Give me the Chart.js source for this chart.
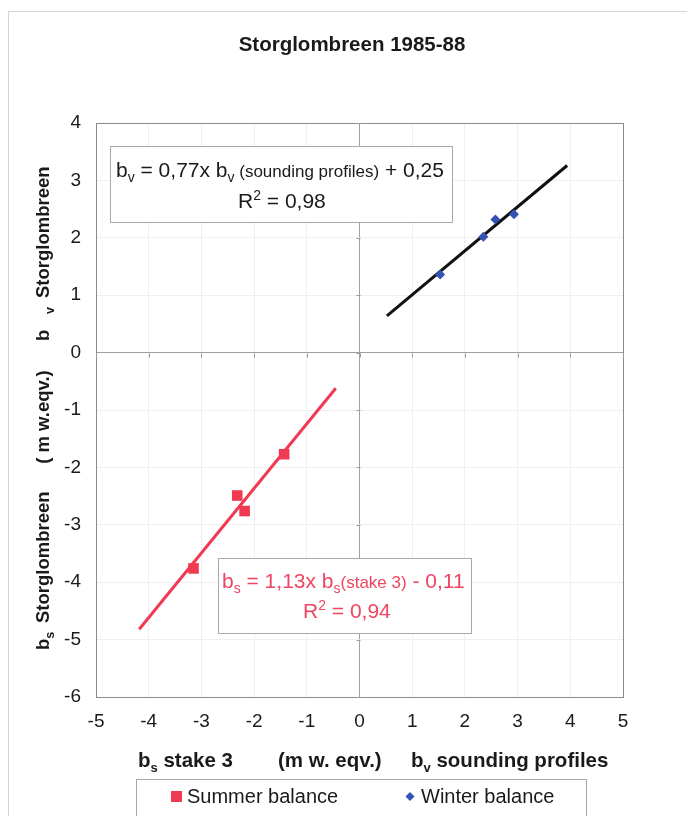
<!DOCTYPE html>
<html><head><meta charset="utf-8">
<script src="https://cdn.jsdelivr.net/npm/chart.js@4.4.1/dist/chart.umd.min.js"></script>
<style>html,body{margin:0;padding:0;background:#fff;}#wrap{width:687px;height:816px;position:relative;}</style>
</head><body><div id="wrap"><canvas id="c" width="687" height="816"></canvas></div>
<script>
// Data
const summerX = [-1.43, -2.32, -2.18, -3.15];
const summerY = [-1.77, -2.49, -2.76, -3.76];
const winterX = [1.53, 2.35, 2.58, 2.93];
const winterY = [1.36, 2.02, 2.32, 2.41];
const summerTrendX = [-4.18, -0.45];
const summerTrendY = [-4.82, -0.62];
const winterTrendX = [0.52, 3.94];
const winterTrendY = [0.64, 3.26];
const xTicks = [-5, -4, -3, -2, -1, 0, 1, 2, 3, 4, 5];
const yTicks = [-6, -5, -4, -3, -2, -1, 0, 1, 2, 3, 4];
const titleText = 'Storglombreen 1985-88';
const legendLabels = ['Summer balance', 'Winter balance'];

const RED = '#f03a52', BLUE = '#3552b4', FAM = '"Liberation Sans", Arial, sans-serif';
const pts = (xs, ys) => xs.map((x, i) => ({x, y: ys[i]}));

function drawRich(ctx, x, y, segs, color) {
  let cx = x;
  ctx.fillStyle = color;
  ctx.textBaseline = 'alphabetic';
  ctx.textAlign = 'left';
  for (const s of segs) {
    ctx.font = (s.b ? 'bold ' : '') + s.s + 'px ' + FAM;
    ctx.fillText(s.t, cx, y + (s.dy || 0));
    cx += ctx.measureText(s.t).width;
  }
  return cx - x;
}

const decor = {
  id: 'decor',
  beforeDraw(chart) {
    const ctx = chart.ctx;
    ctx.save();
    ctx.fillStyle = '#fff';
    ctx.fillRect(0, 0, chart.width, chart.height);
    ctx.strokeStyle = '#d4d4d4'; ctx.lineWidth = 1;
    ctx.strokeRect(8.5, 11.5, 900, 900);
    ctx.restore();
  },
  beforeDatasetsDraw(chart) {
    const ctx = chart.ctx, a = chart.chartArea;
    const xs = chart.scales.x, ys = chart.scales.y;
    ctx.save();
    ctx.strokeStyle = '#8c8c8c'; ctx.lineWidth = 1;
    ctx.strokeRect(Math.round(a.left) + 0.5, Math.round(a.top) + 0.5, Math.round(a.right - a.left), Math.round(a.bottom - a.top));
    const x0 = Math.round(xs.getPixelForValue(0)) + 0.5, y0 = Math.round(ys.getPixelForValue(0)) + 0.5;
    ctx.strokeStyle = '#9a9a9a';
    ctx.beginPath();
    for (const v of yTicks) { const py = Math.round(ys.getPixelForValue(v)) + 0.5; ctx.moveTo(x0 - 4, py); ctx.lineTo(x0, py); }
    for (const v of xTicks) { const px = Math.round(xs.getPixelForValue(v)) + 0.5; ctx.moveTo(px, y0); ctx.lineTo(px, y0 + 4); }
    ctx.stroke();
    ctx.restore();
  },
  afterDraw(chart) {
    const ctx = chart.ctx;
    ctx.save();
    // title
    ctx.font = 'bold 20.5px ' + FAM; ctx.fillStyle = '#1a1a1a'; ctx.textAlign = 'center'; ctx.textBaseline = 'middle';
    ctx.fillText(titleText, 352, 45);
    // annotation box 1
    ctx.fillStyle = '#fff'; ctx.strokeStyle = '#a8a8a8'; ctx.lineWidth = 1;
    ctx.fillRect(111, 147, 342, 76); ctx.strokeRect(110.5, 146.5, 342, 76);
    drawRich(ctx, 116, 177, [
      {t: 'b', s: 21}, {t: 'v', s: 14, dy: 5}, {t: ' = 0,77x b', s: 21}, {t: 'v', s: 14, dy: 5},
      {t: ' (sounding profiles)', s: 17}, {t: ' + 0,25', s: 21}], '#1a1a1a');
    drawRich(ctx, 238, 208, [{t: 'R', s: 21}, {t: '2', s: 14, dy: -8}, {t: ' = 0,98', s: 21}], '#1a1a1a');
    // annotation box 2
    ctx.fillStyle = '#fff'; ctx.strokeStyle = '#a8a8a8';
    ctx.fillRect(219, 559, 253, 75); ctx.strokeRect(218.5, 558.5, 253, 75);
    drawRich(ctx, 222, 588, [
      {t: 'b', s: 21}, {t: 's', s: 14, dy: 5}, {t: ' = 1,13x b', s: 21}, {t: 's', s: 14, dy: 5},
      {t: '(stake 3)', s: 17}, {t: ' - 0,11', s: 21}], '#ee4560');
    drawRich(ctx, 303, 618, [{t: 'R', s: 21}, {t: '2', s: 14, dy: -8}, {t: ' = 0,94', s: 21}], '#ee4560');
    // y axis title (rotated), pieces placed along the axis
    const ytx = 49;
    const piece = (yStart, segs) => {
      ctx.save(); ctx.translate(ytx, yStart); ctx.rotate(-Math.PI / 2);
      drawRich(ctx, 0, 0, segs, '#1a1a1a'); ctx.restore();
    };
    piece(650, [{t: 'b', s: 18.5, b: 1}, {t: 's', s: 12.5, b: 1, dy: 5}]);
    piece(623, [{t: 'Storglombreen', s: 18.5, b: 1}]);
    ctx.font = 'bold 18.5px ' + FAM;
    const pw = ctx.measureText('( m w.eqv.)').width;
    piece(417 + pw / 2, [{t: '( m w.eqv.)', s: 18.5, b: 1}]);
    piece(341, [{t: 'b', s: 18.5, b: 1}]);
    piece(314, [{t: 'v', s: 12.5, b: 1, dy: 5}]);
    piece(298, [{t: 'Storglombreen', s: 18.5, b: 1}]);
    // x axis title
    drawRich(ctx, 138, 767, [{t: 'b', s: 20.5, b: 1}, {t: 's', s: 13, b: 1, dy: 5}, {t: ' stake 3', s: 20.5, b: 1}], '#1a1a1a');
    drawRich(ctx, 278, 767, [{t: '(m w. eqv.)', s: 20.5, b: 1}], '#1a1a1a');
    drawRich(ctx, 411, 767, [{t: 'b', s: 20.5, b: 1}, {t: 'v', s: 13, b: 1, dy: 5}, {t: ' sounding profiles', s: 20.5, b: 1}], '#1a1a1a');
    // legend
    ctx.strokeStyle = '#a8a8a8';
    ctx.strokeRect(136.5, 779.5, 450, 60);
    ctx.fillStyle = RED; ctx.fillRect(171, 791, 11, 11);
    ctx.fillStyle = BLUE; ctx.beginPath();
    ctx.moveTo(410, 792); ctx.lineTo(414.5, 796.5); ctx.lineTo(410, 801); ctx.lineTo(405.5, 796.5); ctx.closePath(); ctx.fill();
    ctx.font = '20px ' + FAM; ctx.fillStyle = '#1a1a1a'; ctx.textAlign = 'left'; ctx.textBaseline = 'middle';
    ctx.fillText(legendLabels[0], 187, 797);
    ctx.fillText(legendLabels[1], 421, 797);
    ctx.restore();
  }
};

new Chart(document.getElementById('c'), {
  type: 'scatter',
  data: {
    datasets: [
      {label: legendLabels[0], data: pts(summerX, summerY), pointStyle: 'rect', pointRadius: 7.5, backgroundColor: RED, borderColor: RED, borderWidth: 0, order: 1},
      {label: legendLabels[1], data: pts(winterX, winterY), pointStyle: 'rectRot', pointRadius: 5, backgroundColor: BLUE, borderColor: BLUE, borderWidth: 0, order: 1},
      {label: 'summer trend', data: pts(summerTrendX, summerTrendY), showLine: true, borderColor: RED, borderWidth: 3, pointRadius: 0, order: 2},
      {label: 'winter trend', data: pts(winterTrendX, winterTrendY), showLine: true, borderColor: '#111', borderWidth: 3, pointRadius: 0, order: 2}
    ]
  },
  options: {
    responsive: false, animation: false, devicePixelRatio: 1,
    layout: {padding: {left: 0, top: 123, right: 64, bottom: 0}},
    plugins: {legend: {display: false}, title: {display: false}, tooltip: {enabled: false}},
    scales: {
      x: {
        type: 'linear', min: -5, max: 5,
        afterBuildTicks: s => { s.ticks = xTicks.map(v => ({value: v})); },
        afterFit: s => { s.height = 119; },
        grid: {color: c => c.tick && c.tick.value === 0 ? '#a0a0a0' : '#efefef', drawTicks: false},
        border: {display: false},
        ticks: {padding: 13, color: '#1a1a1a', font: {family: FAM, size: 19}}
      },
      y: {
        type: 'linear', min: -6, max: 4,
        afterBuildTicks: s => { s.ticks = yTicks.map(v => ({value: v})); },
        afterFit: s => { s.width = 96; },
        grid: {color: c => c.tick && c.tick.value === 0 ? '#a0a0a0' : '#efefef', drawTicks: false},
        border: {display: false},
        ticks: {padding: 15, color: '#1a1a1a', font: {family: FAM, size: 19}}
      }
    }
  },
  plugins: [decor]
});
</script></body></html>
